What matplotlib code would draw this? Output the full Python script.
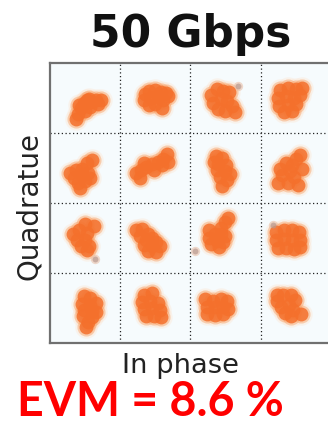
import matplotlib
matplotlib.use("Agg")
import matplotlib.pyplot as plt

# ---- data ----
title_text = "50 Gbps"
x_label = "In phase"
y_label = "Quadratue"
evm_text = "EVM = 8.6 %"
grid_ticks = [-2, 0, 2]

# cluster centres (in-phase, quadrature), row by row from the top
I_centers = [-2.95, -1.07, 0.93, 2.78,
             -3.09, -1.10, 0.90, 2.83,
             -3.06, -1.21, 0.75, 2.78,
             -2.92, -1.15, 0.70, 2.75]
Q_centers = [2.81, 3.00, 2.91, 2.94,
             0.86, 1.06, 0.94, 0.91,
             -1.00, -1.06, -0.94, -1.06,
             -3.06, -2.97, -2.97, -2.91]

# symbol offsets around each centre (dI, dQ)
offsets = [
    [(-0.32, -0.42), (-0.25, -0.26), (-0.17, -0.09), (-0.09, 0.06), (0.0, 0.14), (0.12, 0.09),
     (0.25, 0.12), (0.4, 0.12), (-0.06, -0.17), (0.09, -0.06), (-0.23, 0.0), (0.06, 0.17), (0.32, 0.02)],
    [(-0.23, 0.12), (-0.12, 0.21), (0.06, 0.23), (0.23, 0.17), (0.37, 0.14), (-0.25, -0.06), (-0.06, 0.0),
     (0.14, 0.02), (0.29, -0.06), (-0.12, -0.21), (0.06, -0.17), (0.25, -0.29), (0.44, 0.06)],
    [(-0.35, 0.17), (-0.17, 0.35), (0.0, 0.29), (0.17, 0.25), (-0.29, -0.06), (-0.06, 0.06), (0.12, 0.0),
     (0.25, -0.14), (-0.14, -0.23), (0.06, -0.29), (0.35, -0.32)],
    [(-0.23, 0.29), (0.0, 0.35), (0.23, 0.32), (0.35, 0.14), (-0.29, 0.06), (-0.06, 0.12), (0.17, 0.06),
     (-0.25, -0.17), (0.0, -0.14), (0.23, -0.12), (-0.12, -0.35), (0.12, -0.32), (0.4, 0.35)],
    [(-0.35, 0.0), (-0.17, 0.09), (0.0, 0.12), (0.14, 0.29), (0.29, 0.37), (-0.23, -0.14), (0.0, -0.06),
     (0.17, 0.0), (-0.12, -0.29), (0.09, -0.23), (-0.06, -0.44), (0.23, -0.14)],
    [(-0.46, -0.21), (-0.32, -0.12), (-0.17, -0.02), (0.0, 0.06), (0.17, 0.12), (0.32, 0.21), (0.44, 0.35),
     (-0.23, 0.09), (0.06, -0.12), (0.29, 0.02), (-0.35, -0.35), (0.46, 0.12)],
    [(-0.17, 0.4), (0.0, 0.35), (-0.12, 0.17), (0.12, 0.14), (-0.14, 0.0), (0.09, -0.02), (0.23, -0.12),
     (-0.06, -0.21), (0.14, -0.29), (0.0, -0.44), (-0.23, 0.23)],
    [(0.0, 0.0), (0.17, 0.35), (0.29, 0.46), (-0.12, 0.23), (-0.23, -0.12), (-0.35, -0.35), (0.12, -0.17),
     (0.23, -0.4), (0.35, 0.06), (-0.06, -0.35), (-0.29, 0.06), (0.06, 0.17)],
    [(-0.29, 0.12), (-0.12, 0.23), (0.06, 0.4), (0.12, 0.14), (-0.17, -0.06), (0.06, -0.06), (0.17, -0.23),
     (-0.06, -0.23), (0.12, -0.35), (0.32, 0.35)],
    [(-0.35, 0.29), (-0.17, 0.32), (-0.23, 0.12), (0.0, 0.17), (0.12, 0.06), (-0.06, 0.0), (0.23, -0.06),
     (-0.12, -0.14), (0.12, -0.17), (0.35, -0.17), (0.0, -0.32), (0.23, -0.35)],
    [(-0.23, -0.06), (-0.06, 0.06), (0.12, 0.06), (0.0, -0.14), (0.17, -0.17), (-0.17, -0.23), (0.23, 0.0),
     (0.12, 0.23), (0.23, 0.4), (0.33, 0.5), (0.06, -0.32), (-0.23, 0.17)],
    [(-0.35, 0.23), (-0.12, 0.29), (0.12, 0.29), (0.32, 0.23), (-0.35, 0.0), (-0.12, 0.02), (0.12, 0.0),
     (0.35, 0.0), (-0.29, -0.23), (-0.06, -0.23), (0.17, -0.25), (0.35, -0.21)],
    [(-0.12, 0.4), (0.06, 0.35), (-0.17, 0.17), (0.06, 0.14), (0.23, 0.21), (-0.12, 0.0), (0.12, -0.02),
     (-0.14, -0.17), (0.12, -0.21), (0.0, -0.35), (-0.06, -0.48), (0.23, -0.06)],
    [(-0.17, 0.35), (0.06, 0.4), (-0.23, 0.14), (0.0, 0.17), (0.23, 0.12), (-0.17, -0.06), (0.06, -0.02),
     (0.29, -0.09), (-0.12, -0.25), (0.12, -0.25), (0.32, -0.29)],
    [(-0.29, 0.23), (-0.06, 0.17), (0.17, 0.23), (0.35, 0.17), (-0.23, 0.0), (0.0, 0.0), (0.23, 0.0),
     (-0.23, -0.21), (0.0, -0.23), (0.23, -0.21), (0.37, -0.06)],
    [(-0.29, 0.12), (-0.12, 0.29), (0.12, 0.29), (0.23, 0.14), (-0.17, -0.06), (0.06, 0.0), (0.17, -0.14),
     (-0.06, -0.23), (0.12, -0.32), (0.4, -0.25), (-0.29, 0.29)],
]

# isolated stray symbols (in-phase, quadrature)
stray_I = [1.35, -2.71, 0.13, 2.36]
stray_Q = [3.33, -1.60, -1.36, -0.64]

# ---- figure ----
fig = plt.figure(figsize=(3.28, 4.25), dpi=100)
ax = fig.add_axes([0.1524, 0.1929, 0.8567, 0.6588])
ax.set_facecolor("#f6fbfd")

pts_i, pts_q = [], []
for ci, cq, offs in zip(I_centers, Q_centers, offsets):
    for di, dq in offs:
        pts_i.append(ci + di)
        pts_q.append(cq + dq)

ax.scatter(pts_i, pts_q, s=260, color="#fde2cc", alpha=0.35, linewidths=0, zorder=2)
ax.scatter(pts_i, pts_q, s=170, color="#f9a76f", alpha=0.5, linewidths=0, zorder=3)
ax.scatter(pts_i, pts_q, s=100, color="#f4702c", alpha=0.85, linewidths=0, zorder=4)
ax.scatter(stray_I, stray_Q, s=45, color="#e9c0a8", alpha=0.6, linewidths=0, zorder=3)
ax.scatter(stray_I, stray_Q, s=18, color="#b89a90", alpha=0.7, linewidths=0, zorder=4)

ax.set_xlim(-4, 4)
ax.set_ylim(-4, 4)
ax.set_xticks(grid_ticks)
ax.set_yticks(grid_ticks)
ax.tick_params(length=0, labelbottom=False, labelleft=False)
ax.grid(True, color="#222222", linestyle=(0, (1, 2)), linewidth=0.9, zorder=1)
ax.set_axisbelow(True)
for side in ["left", "top", "bottom"]:
    ax.spines[side].set_color("#707070")
    ax.spines[side].set_linewidth(1.6)
ax.spines["right"].set_visible(False)

fig.text(190.5 / 328, 1 - 46.7 / 425, title_text, ha="center", va="baseline",
         fontsize=31.6, fontweight="bold", family="DejaVu Sans", color="#111111")
fig.text(180 / 328, 1 - 373 / 425, x_label, ha="center", va="baseline",
         fontsize=19.7, family="DejaVu Sans", color="#222222")
ax.set_ylabel(y_label, fontsize=20, family="DejaVu Sans", color="#222222")
ax.yaxis.set_label_coords(-0.025, 0.49)
fig.text(17 / 328, 0.5 / 425, evm_text, ha="left", va="bottom",
         fontsize=33.5, fontweight="bold", family="Lato", color="#ff0000")

fig.savefig("out.png", dpi=100)
